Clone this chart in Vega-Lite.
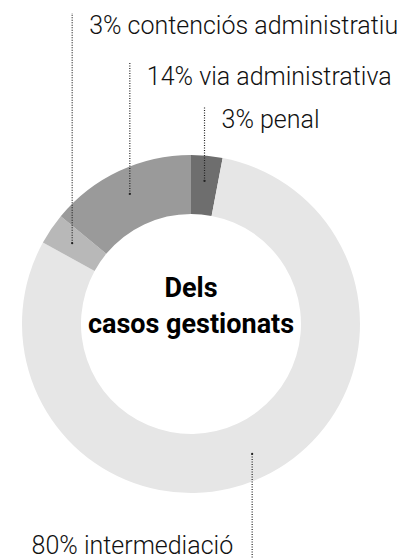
{
  "$schema": "https://vega.github.io/schema/vega-lite/v6.json",
  "width": 407,
  "height": 559,
  "padding": 0,
  "autosize": {"type": "none"},
  "background": "white",
  "config": {"view": {"stroke": null}},
  "data": {
    "values": [
      {"category": "penal", "value": 3, "label": "3% penal", "order": 0},
      {"category": "intermediació", "value": 80, "label": "80% intermediació", "order": 1},
      {"category": "contenciós administratiu", "value": 3, "label": "3% contenciós administratiu", "order": 2},
      {"category": "via administrativa", "value": 14, "label": "14% via administrativa", "order": 3}
    ]
  },
  "transform": [
    {"window": [{"op": "sum", "field": "value", "as": "cumEnd"}], "sort": [{"field": "order"}], "frame": [null, 0]},
    {"joinaggregate": [{"op": "sum", "field": "value", "as": "total"}]},
    {"calculate": "2 * PI * (datum.cumEnd - datum.value / 2) / datum.total", "as": "mid"},
    {"calculate": "0.85 * sin(datum.mid)", "as": "ax"},
    {"calculate": "0.85 * cos(datum.mid)", "as": "ay"},
    {"calculate": "[1.16, -1.361, 1.716, 1.414][datum.order]", "as": "ly"},
    {"calculate": "[1.29, -1.391, 1.84, 1.544][datum.order]", "as": "lend"}
  ],
  "encoding": {
    "x": {"type": "quantitative", "scale": {"domain": [-1.130, 1.278]}, "axis": null},
    "y": {"type": "quantitative", "scale": {"domain": [-1.391, 1.917]}, "axis": null}
  },
  "layer": [
    {
      "mark": {"type": "arc", "outerRadius": 169, "innerRadius": 110},
      "encoding": {
        "x": {"datum": 0, "type": "quantitative"},
        "y": {"datum": 0, "type": "quantitative"},
        "theta": {"field": "value", "type": "quantitative", "stack": true},
        "order": {"field": "order", "type": "quantitative"},
        "color": {
          "field": "category", "type": "nominal", "legend": null,
          "scale": {
            "domain": ["penal", "intermediació", "contenciós administratiu", "via administrativa"],
            "range": ["#6e6e6e", "#e6e6e6", "#b8b8b8", "#9a9a9a"]
          }
        }
      }
    },
    {
      "mark": {"type": "rule", "strokeDash": [1, 1.5], "strokeWidth": 1.2, "color": "#222"},
      "encoding": {
        "x": {"field": "ax"},
        "y": {"field": "ay"},
        "y2": {"field": "lend"}
      }
    },
    {
      "mark": {"type": "circle", "size": 5, "color": "#222", "opacity": 1},
      "encoding": {
        "x": {"field": "ax"},
        "y": {"field": "ay"}
      }
    },
    {
      "transform": [{"filter": "datum.ly > 0"}],
      "mark": {"type": "text", "align": "left", "baseline": "alphabetic", "dx": 17, "font": "Roboto", "fontWeight": 300, "fontSize": 25, "color": "#111"},
      "encoding": {
        "x": {"field": "ax"},
        "y": {"field": "ly"},
        "text": {"field": "label"}
      }
    },
    {
      "transform": [{"filter": "datum.ly < 0"}],
      "mark": {"type": "text", "align": "right", "baseline": "alphabetic", "dx": -19, "font": "Roboto", "fontWeight": 300, "fontSize": 25, "color": "#111"},
      "encoding": {
        "x": {"field": "ax"},
        "y": {"field": "ly"},
        "text": {"field": "label"}
      }
    },
    {
      "data": {"values": [{"title": ["Dels", "casos gestionats"]}]},
      "transform": [],
      "mark": {"type": "text", "align": "center", "baseline": "alphabetic", "font": "Roboto", "fontWeight": "bold", "fontSize": 27, "lineHeight": 36, "color": "#000"},
      "encoding": {
        "x": {"datum": 0, "type": "quantitative"},
        "y": {"datum": 0.16, "type": "quantitative"},
        "text": {"field": "title"}
      }
    }
  ]
}
